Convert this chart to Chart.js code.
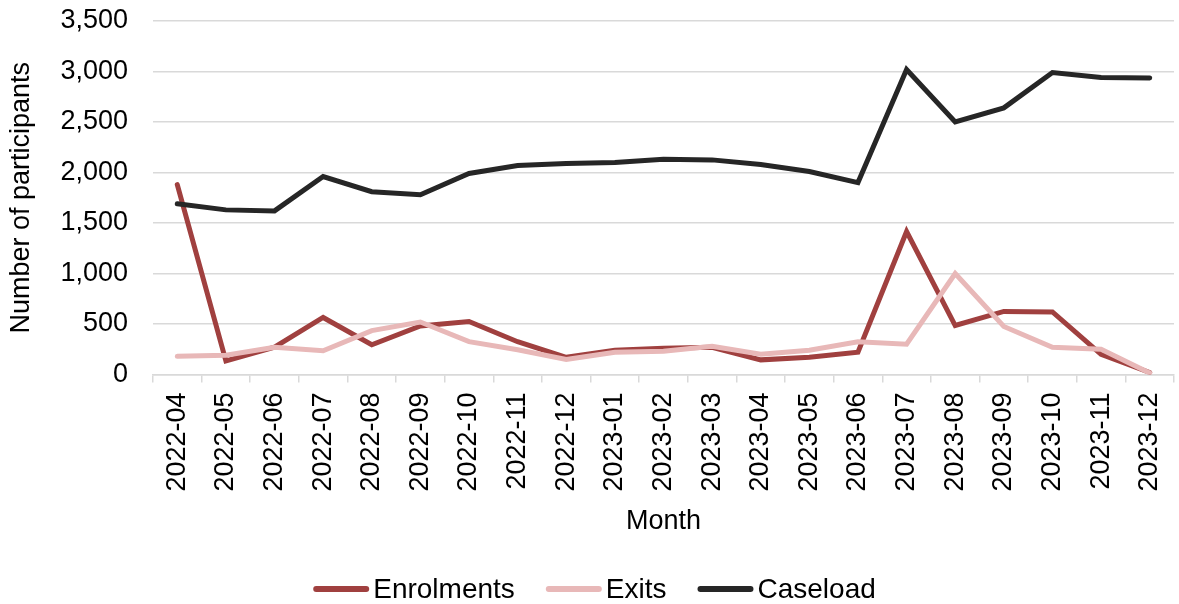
<!DOCTYPE html>
<html>
<head>
<meta charset="utf-8">
<title>Participants by month</title>
<script src="https://cdn.jsdelivr.net/npm/chart.js@4/dist/chart.umd.min.js"></script>
<style>
  html, body { margin: 0; padding: 0; background: #ffffff; }
  canvas { display: block; }
</style>
</head>
<body>
<canvas id="chart" width="1179" height="604"></canvas>
<script>
// Monthly program figures
const months = [
  '2022-04', '2022-05', '2022-06', '2022-07', '2022-08', '2022-09', '2022-10',
  '2022-11', '2022-12', '2023-01', '2023-02', '2023-03', '2023-04', '2023-05',
  '2023-06', '2023-07', '2023-08', '2023-09', '2023-10', '2023-11', '2023-12'
];
const enrolments = [1880, 135, 270, 565, 295, 480, 525, 325, 170, 240, 260, 270, 145, 170, 220, 1415, 485, 625, 620, 200, 20];
const exits      = [180, 190, 270, 235, 435, 520, 325, 245, 150, 220, 230, 280, 200, 240, 325, 300, 1000, 475, 270, 250, 15];
const caseload   = [1690, 1630, 1620, 1960, 1810, 1780, 1990, 2070, 2090, 2100, 2130, 2125, 2080, 2010, 1900, 3020, 2500, 2640, 2990, 2940, 2935];

const yTicks = { min: 0, max: 3500, step: 500 };

const FONT = 'Liberation Sans, Arial, Helvetica, sans-serif';
const GRID = '#d9d9d9';

// Legend drawn under the plot: a short line, then the series name
const lineLegend = {
  id: 'lineLegend',
  afterDraw(chart) {
    const ctx = chart.ctx;
    const sets = chart.data.datasets;
    const lineLen = 56, gap = 4, itemGap = 31;
    ctx.save();
    ctx.font = '28px ' + FONT;
    const widths = sets.map(d => lineLen + gap + ctx.measureText(d.label).width);
    const total = widths.reduce((a, b) => a + b, 0) + itemGap * (sets.length - 1);
    let x = chart.width / 2 - total / 2 + 5;
    const y = 589;
    sets.forEach((d, i) => {
      ctx.strokeStyle = d.borderColor;
      ctx.lineWidth = 6;
      ctx.lineCap = 'round';
      ctx.beginPath();
      ctx.moveTo(x + 3, y);
      ctx.lineTo(x + lineLen - 3, y);
      ctx.stroke();
      ctx.fillStyle = '#000000';
      ctx.textBaseline = 'middle';
      ctx.textAlign = 'left';
      ctx.fillText(d.label, x + lineLen + gap, y + 1);
      x += widths[i] + itemGap;
    });
    ctx.restore();
  }
};

const lineStyle = {
  borderWidth: 5,
  pointRadius: 0,
  pointHoverRadius: 0,
  tension: 0,
  borderCapStyle: 'round',
  borderJoinStyle: 'miter',
  fill: false
};

new Chart(document.getElementById('chart'), {
  type: 'line',
  data: {
    labels: months,
    datasets: [
      Object.assign({ label: 'Enrolments', data: enrolments, borderColor: '#a0403f', order: 3 }, lineStyle),
      Object.assign({ label: 'Exits', data: exits, borderColor: '#e8b8b8', order: 2 }, lineStyle),
      Object.assign({ label: 'Caseload', data: caseload, borderColor: '#262626', order: 1 }, lineStyle)
    ]
  },
  options: {
    responsive: false,
    animation: false,
    layout: { padding: { top: 21, right: 5, bottom: 66, left: 0 } },
    plugins: {
      legend: { display: false },
      tooltip: { enabled: false }
    },
    scales: {
      x: {
        type: 'category',
        offset: true,
        grid: {
          offset: true,
          drawOnChartArea: false,
          drawTicks: true,
          tickLength: 8,
          color: GRID,
          lineWidth: 1.5
        },
        border: { display: true, color: GRID, width: 1.5 },
        ticks: {
          minRotation: 90,
          maxRotation: 90,
          autoSkip: false,
          padding: 10,
          color: '#000000',
          font: { family: FONT, size: 27, lineHeight: 0.6 }
        },
        title: {
          display: true,
          text: 'Month',
          color: '#000000',
          font: { family: FONT, size: 27, lineHeight: 1.2 },
          padding: { top: 4, bottom: 0 }
        }
      },
      y: {
        min: yTicks.min,
        max: yTicks.max,
        grid: {
          drawTicks: true,
          tickLength: 22,
          tickColor: 'rgba(0,0,0,0)',
          color: GRID,
          lineWidth: 1.5
        },
        border: { display: false },
        ticks: {
          stepSize: yTicks.step,
          padding: 3,
          color: '#000000',
          font: { family: FONT, size: 27 },
          callback: v => v.toLocaleString('en-US')
        },
        title: {
          display: true,
          text: 'Number of participants',
          color: '#000000',
          font: { family: FONT, size: 27, lineHeight: 1.2 },
          padding: { top: 5, bottom: 20 }
        }
      }
    }
  },
  plugins: [lineLegend]
});
</script>
</body>
</html>
